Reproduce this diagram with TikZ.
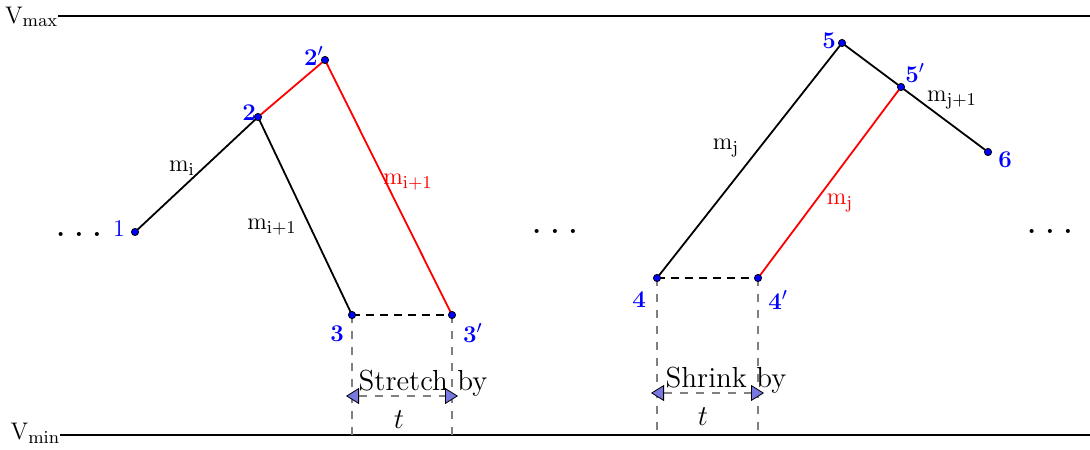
\documentclass[tikz,border=0pt]{standalone}
\usepackage{amsmath}
\usepackage{tikz}
\usetikzlibrary{arrows.meta}
\definecolor{tipblue}{RGB}{120,120,225}

\begin{document}
\begin{tikzpicture}[x=0.5pt,y=-0.5pt,line width=0.9pt,
  every node/.style={font=\fontsize{13}{15}\selectfont},
  pt/.style={draw=black,fill=blue,circle,inner sep=0pt,minimum size=3.6pt,line width=0.4pt},
  num/.style={text=blue,inner sep=1pt},
  guide/.style={gray,line width=0.6pt,dash pattern=on 4pt off 4pt},
  gap/.style={black,line width=0.6pt,dash pattern=on 4pt off 3pt},
  span/.style={{Triangle[color=black,fill=tipblue,length=6.5pt,width=8pt,line width=0.4pt]}-{Triangle[color=black,fill=tipblue,length=6.5pt,width=8pt,line width=0.4pt]},
    guide,shorten <=-3pt,shorten >=-3pt},
  lvl/.style={anchor=east,inner sep=0pt,font=\fontsize{12.5}{15}\selectfont},
  big/.style={font=\fontsize{14.5}{17}\selectfont},
  dots/.style={font=\huge}]
\useasboundingbox (0,0) rectangle (1090,449);

%levels
\coordinate (vmaxL) at (58,16);
\coordinate (vmaxR) at (1090,16);
\coordinate (vminL) at (60,435);
\coordinate (vminR) at (1090,435);
\draw[line width=0.6pt] (vmaxL) -- (vmaxR);
\draw[line width=0.6pt] (vminL) -- (vminR);
\node[lvl] (vmax) at (59,17) {$\mathrm{V}_{\mathrm{max}}$};
\node[lvl] (vmin) at (61,433) {$\mathrm{V}_{\mathrm{min}}$};

%points
\coordinate (c1) at (135,232);
\coordinate (c2) at (258,117);
\coordinate (c2p) at (325,60);
\coordinate (c3) at (352,315);
\coordinate (c3p) at (452,315);
\coordinate (c4) at (657,278);
\coordinate (c4p) at (758,278);
\coordinate (c5) at (842,43);
\coordinate (c5p) at (901,87);
\coordinate (c6) at (988,152);

%guides
\draw[guide] (c3) -- (c3 |- vminL);
\draw[guide] (c3p) -- (c3p |- vminL);
\draw[guide] (c4) -- (c4 |- vminL);
\draw[guide] (c4p) -- (c4p |- vminL);
\draw[gap] (c3) -- (c3p);
\draw[gap] (c4) -- (c4p);

%chains
\draw (c1) -- (c2) -- (c3);
\draw[red] (c2) -- (c2p) -- (c3p);
\draw (c4) -- (c5) -- (c6);
\draw[red] (c4p) -- (c5p);

\foreach \c in {c1,c2,c2p,c3,c3p,c4,c4p,c5,c5p,c6}
  \node[pt] (n\c) at (\c) {};

%point labels
\node[num] (l1) at (119,229) {$1$};
\node[num] (l2) at (249,113) {$\mathbf{2}$};
\node[num] (l2p) at (314,56) {$\mathbf{2'}$};
\node[num] (l3) at (337,334) {$\mathbf{3}$};
\node[num] (l3p) at (473,333) {$\mathbf{3'}$};
\node[num] (l4) at (639,300) {$\mathbf{4}$};
\node[num] (l4p) at (778,300) {$\mathbf{4'}$};
\node[num] (l5) at (829,41) {$\mathbf{5}$};
\node[num] (l5p) at (915,73) {$\mathbf{5'}$};
\node[num] (l6) at (1005,160) {$\mathbf{6}$};

%masses
\node (mi) at (182,168) {$\mathrm{m_i}$};
\node (mii) at (272,227) {$\mathrm{m_{i+1}}$};
\node[red] (miir) at (408,182) {$\mathrm{m_{i+1}}$};
\node (mj) at (726,148) {$\mathrm{m_j}$};
\node[red] (mjr) at (840,203) {$\mathrm{m_j}$};
\node (mjj) at (952,100) {$\mathrm{m_{j+1}}$};

\node[dots] (d1) at (79,234) {$\ldots$};
\node[dots] (d2) at (555,231) {$\ldots$};
\node[dots] (d3) at (1050,231) {$\ldots$};

%shifts
\coordinate (s3) at (352,396);
\coordinate (s3p) at (452,396);
\coordinate (s4) at (657,393);
\coordinate (s4p) at (758,393);
\draw[span] (s3) -- (s3p);
\draw[span] (s4) -- (s4p);
\node[big] (stretch) at (423,383) {Stretch by};
\node[big] (shrink) at (726,380) {Shrink by};
\node[big] (t3) at (399,420) {$t$};
\node[big] (t4) at (703,417) {$t$};
\end{tikzpicture}
\end{document}
